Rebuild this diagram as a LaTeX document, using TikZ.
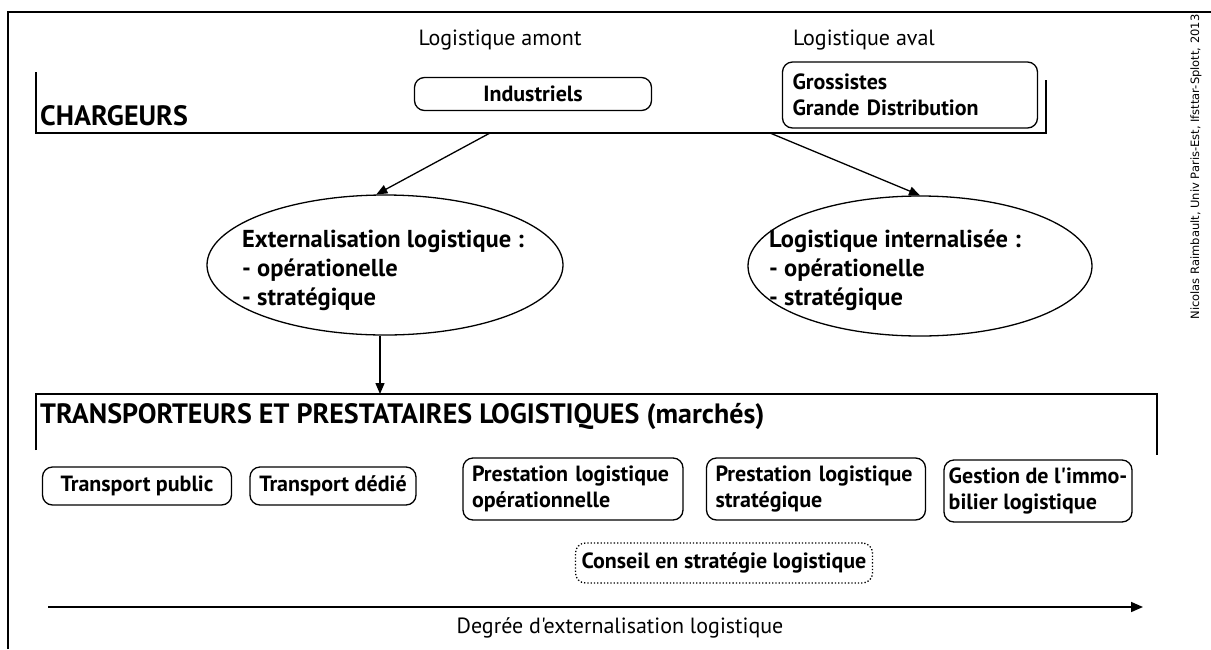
\documentclass[tikz,border=0pt]{standalone}
\usepackage{fontspec}
\setmainfont{PT Sans}[Ligatures=TeXOff]
\newfontfamily\credfont{DejaVu Sans}
\usetikzlibrary{arrows.meta,shapes.geometric}
\begin{document}
\begin{tikzpicture}[x=1pt,y=-1pt,
  line/.style={line width=1.4pt},
  conn/.style={line width=1.3pt,-{Triangle[length=11pt,width=9pt]}},
  rbox/.style={draw,line width=1.3pt,rounded corners=10pt,inner sep=0pt,align=left,
    font=\bfseries\fontsize{22}{26}\selectfont},
  ell/.style={draw,ellipse,line width=1.3pt,inner sep=0pt},
  elltext/.style={anchor=west,inner sep=0pt,align=left,
    font=\bfseries\fontsize{24.5}{29}\selectfont},
  title/.style={font=\bfseries\fontsize{28}{30}\selectfont,anchor=west,inner sep=0pt},
  lab/.style={font=\fontsize{22}{24}\selectfont,inner sep=0pt}]
\useasboundingbox (0,0) rectangle (1211,649);
% outer frame
\draw[line width=2pt] (8,649) -- (8,12) -- (1211,12);
% credit
\node[rotate=90,font=\credfont\fontsize{11.5}{13}\selectfont,inner sep=0pt] (cred) at (1196,167) {Nicolas Raimbault, Univ Paris-Est, Ifsttar-Splott, 2013};
% top labels
\node[lab] (amont) at (500,40) {Logistique amont};
\node[lab] (aval) at (864,40) {Logistique aval};
% chargeurs bracket
\draw[line] (36,72) -- (36,133) -- (1046,133) -- (1046,80);
\node[title] (charg) at (40,116) {CHARGEURS};
\coordinate (c1) at (490,133);
\coordinate (c2) at (770,133);
% boxes top
\node[rbox,minimum width=237pt,minimum height=33pt] (ind) at (533,94) {Industriels};
\node[rbox,minimum width=255pt,minimum height=66pt,text width=235pt] (gros) at (910,95) {Grossistes\\Grande Distribution};
% ellipses
\node[ell,minimum width=356pt,minimum height=140pt] (e1) at (385,265) {};
\node[elltext] (e1t) at (242,270) {Externalisation logistique :\\- opérationelle\\- stratégique};
\node[ell,minimum width=344pt,minimum height=140pt] (e2) at (920,266) {};
\node[elltext] (e2t) at (769,270) {Logistique internalisée :\\- opérationelle\\- stratégique};
% transporteurs bracket
\draw[line] (36,450) -- (36,394) -- (1157,394) -- (1157,455);
\coordinate (tp) at (380,394);
\node[title] (transp) at (40,416) {TRANSPORTEURS ET PRESTATAIRES LOGISTIQUES (marchés)};
% arrows
\draw[conn] (c1) -- (e1.97);
\draw[conn] (c2) -- (e2.north);
\draw[conn] (e1.south -| tp) -- (tp);
% bottom boxes
\node[rbox,minimum width=189pt,minimum height=38pt] (tpub) at (137,486) {Transport public};
\node[rbox,minimum width=166pt,minimum height=38pt] (tded) at (333,486) {Transport dédié};
\node[rbox,minimum width=220pt,minimum height=62pt,text width=202pt] (pop) at (573,489) {Prestation logistique\\opérationnelle};
\node[rbox,minimum width=219pt,minimum height=62pt,text width=201pt] (pst) at (816,489) {Prestation logistique\\stratégique};
\node[rbox,minimum width=188pt,minimum height=62pt] (gim) at (1038,491) {Gestion de l'immo-\\bilier logistique};
\node[rbox,dotted,minimum width=297pt,minimum height=40pt] (cons) at (724,563) {Conseil en stratégie logistique};
% bottom axis
\coordinate (a0) at (48,607);
\coordinate (a1) at (1143,607);
\draw[line width=1.6pt,-{Triangle[length=12pt,width=10pt]}] (a0) -- (a1);
\node[lab] (deg) at (620,628) {Degrée d'externalisation logistique};
\end{tikzpicture}
\end{document}
